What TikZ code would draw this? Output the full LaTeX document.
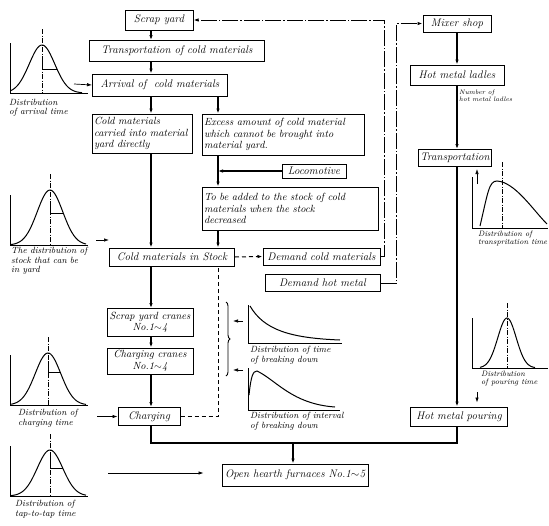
\documentclass[tikz,border=0pt]{standalone}
\usetikzlibrary{arrows.meta}
\usetikzlibrary{decorations.pathreplacing}

\newcommand\bxfont{\fontsize{11}{12}\selectfont\itshape}
\newcommand\bxmulti{\fontsize{10.4}{11.6}\selectfont\itshape}
\newcommand\lbfont{\fontsize{9}{9.5}\selectfont\itshape}
\newcommand\lbsmall{\fontsize{6.5}{7}\selectfont\itshape}

\tikzset{
  box/.style={draw, line width=1pt, inner sep=2pt, font=\bxfont},
  lbl/.style={font=\lbfont, inner sep=0pt, align=left, anchor=north west},
  wire/.style={line width=1.1pt},
  flow/.style={wire, -{Latex[length=5pt,width=3.5pt]}},
  dd/.style={line width=1pt, dash pattern=on 16pt off 2pt on 1.5pt off 2pt},
  dsh/.style={line width=1pt, dash pattern=on 4pt off 3pt},
  axline/.style={line width=0.9pt},
  bell/.style={line width=1pt},
  cline/.style={line width=0.7pt, dash pattern=on 5pt off 1.5pt on 1pt off 1.5pt},
}

\begin{document}
\begin{tikzpicture}[x=1pt,y=-1pt]
  \useasboundingbox (0,0) rectangle (549,525);
  % 两条主干线的 x 坐标
  \coordinate (xl) at (151,0);
  \coordinate (xa) at (218,0);
  \coordinate (xr) at (457,0);

  % 左边: 冷料
  \node[box, minimum width=68, minimum height=20] (scrap) at (159,20) {Scrap yard};
  \node[box, minimum width=175, minimum height=21] (tcold) at (177,51) {Transportation of cold materials};
  \node[box, minimum width=135, minimum height=22] (arrival) at (160,85) {Arrival of\ \ cold materials};
  \node[box, font=\bxmulti, text width=96, align=left, minimum height=39] (direct) at (142,133.5)
    {Cold materials\\carried into material\\yard directly};
  \node[box, font=\bxmulti, text width=158, align=left, minimum height=41] (excess) at (283,134.5)
    {Excess amount of cold material\\which cannot be brought into\\material yard.};
  \node[box, minimum width=64, minimum height=14] (loco) at (314,171) {Locomotive};
  \node[box, font=\bxmulti, text width=172, align=left, minimum height=43] (added) at (290,208.5)
    {To be added to the stock of cold\\materials when the stock\\decreased};
  \node[box, minimum width=125, minimum height=18] (stock) at (172,257) {Cold materials in Stock};
  \node[box, minimum width=117, minimum height=17] (dcold) at (321.5,256.5) {Demand cold materials};
  \node[box, minimum width=115, minimum height=17] (dhot) at (322.5,283) {Demand hot metal};
  \node[box, font=\bxmulti, minimum width=86, minimum height=28, align=center] (crane1) at (150,322.5) {Scrap yard cranes\\No.1$\sim$4};
  \node[box, font=\bxmulti, minimum width=86, minimum height=26, align=center] (crane2) at (150,361) {Charging cranes\\No.1$\sim$4};
  \node[box, minimum width=62, minimum height=18] (charging) at (149,416.5) {Charging};
  \node[box, minimum width=146, minimum height=22] (hearth) at (295,475) {Open hearth furnaces No.1$\sim$5};

  % 右边: 铁水
  \node[box, minimum width=68, minimum height=17] (mixer) at (457,23.5) {Mixer shop};
  \node[box, minimum width=94, minimum height=20] (ladles) at (457,75) {Hot metal ladles};
  \node[box, minimum width=72, minimum height=17] (thot) at (455,158) {Transportation};
  \node[box, minimum width=97, minimum height=19] (pouring) at (459,416.5) {Hot metal pouring};
  \node[lbl, font=\lbsmall] (nladles) at (459,90) {Number of\\hot metal ladles};

  % 连线
  \draw[flow] (scrap.south -| xl) -- (tcold.north -| xl);
  \draw[flow] (tcold.south -| xl) -- (arrival.north -| xl);
  \draw[flow] (arrival.south -| xl) -- (direct.north -| xl);
  \draw[flow] (arrival.south -| xa) -- (excess.north -| xa);
  \draw[flow] (direct.south -| xl) -- (stock.north -| xl);
  \draw[flow] (excess.south -| xa) -- (added.north -| xa);
  \draw[flow] (loco.west) -- (loco.west -| xa);
  \draw[flow] (added.south -| xa) -- (stock.north -| xa);
  \draw[dsh, -{Latex[length=5pt,width=3.5pt]}] (stock.east) -- (dcold.west);
  \draw[dd, -{Latex[length=5pt,width=3.5pt]}] (dcold.east) -- ++(4,0) |- (scrap.east);
  \draw[dd, -{Latex[length=5pt,width=3.5pt]}] (dhot.east) -- ++(16,0) |- (mixer.west);
  \draw[flow] (stock.south -| xl) -- (crane1.north -| xl);
  \draw[flow] (crane1.south -| xl) -- (crane2.north -| xl);
  \draw[flow] (crane2.south -| xl) -- (charging.north -| xl);
  \draw[dsh] (charging.east) -| (stock.south -| xa);
  \coordinate (join) at (293,443);
  \draw[wire] (charging.south -| xl) |- (join) -| (pouring.south -| xr);
  \draw[flow] (join) -- (join |- hearth.north);
  \draw[flow] (mixer.south -| xr) -- (ladles.north -| xr);
  \draw[flow] (ladles.south -| xr) -- (thot.north -| xr);
  \draw[flow] (thot.south -| xr) -- (pouring.north -| xr);

  % 正态分布小图
  \foreach \cx/\by/\h/\mk in {42/93/48/0.5, 50/245/55/0.58, 48/405/52/0.62, 50/496/46/0.6}{
      \pgfmathsetmacro\lo{max(\cx-40,11)}
      \pgfmathsetmacro\hi{min(\cx+40,86)}
      \draw[axline] (10,\by-50) -- (10,\by) -- (88,\by);
      \draw[cline] (\cx,\by-\h-16) -- (\cx,\by);
      \draw[bell] plot[domain=\lo:\hi, samples=50, smooth] (\x,{\by-\h*exp(-(((\x-\cx)/18)^2))});
      \draw[axline] (\cx,\by-\h*\mk-12) -- (\cx,\by-\h*\mk) -- ++({18*sqrt(ln(1/\mk))},0);
    }
  \draw[axline] (472,318) -- (472,368) -- (548,368);
  \draw[cline] (507,303) -- (507,368);
  \draw[bell] plot[domain=480:535, samples=50, smooth] (\x,{368-50*exp(-(((\x-507)/13)^2))});

  % 偏态分布
  \draw[axline] (472,177) -- (472,228) -- (548,228);
  \draw[cline] (502,162) -- (502,228);
  \draw[bell] (480,226) .. controls (488,192) and (489,181) .. (497,181)
    .. controls (515,182) and (533,210) .. (547,224);
  \draw[axline] (248,305) -- (248,343) -- (342,343);
  \draw[bell] (250,306) .. controls (264,330) and (290,338) .. (340,340);
  \draw[axline] (248,368) -- (248,410) -- (340,410);
  \draw[bell] (249,395) .. controls (251,376) and (253,371) .. (257,371)
    .. controls (276,380) and (292,404) .. (335,407);
  \draw[line width=0.9pt, decorate, decoration={brace, amplitude=4pt}] (226,302) -- (226,376);

  % 分布说明
  \node[lbl] (larr) at (9,99) {Distribution\\of arrival time};
  \node[lbl] (lstock) at (11,247) {The distribution of\\stock that can be\\in yard};
  \node[lbl] (lchg) at (18,409) {Distribution of\\charging time};
  \node[lbl] (ltap) at (15,500) {Distribution of\\tap-to-tap time};
  \node[lbl] (lbrk) at (250,346) {Distribution of time\\of breaking down};
  \node[lbl] (lint) at (250,412) {Distribution of interval\\of breaking down};
  \node[lbl, font=\fontsize{7.8}{8.2}\selectfont\itshape] (ltr) at (478,231) {Distribution of\\transpritation time};
  \node[lbl, font=\fontsize{7.8}{8.2}\selectfont\itshape] (lpour) at (481,371) {Distribution\\of pouring time};

  % 小箭头
  \coordinate (a1) at (74,84);
  \coordinate (a2) at (96,240);
  \coordinate (a3) at (97,416.5);
  \coordinate (a4) at (108,473);
  \coordinate (a5) at (243,321);
  \coordinate (a6) at (243,370);
  \coordinate (a7) at (477,184);
  \coordinate (a8) at (477,392);
  \draw[flow, line width=0.7pt] (a1) -- (arrival.west);
  \draw[flow, line width=0.7pt] (a2) -- (a2 -| stock.west);
  \draw[flow, line width=0.7pt] (a3) -- (charging.west);
  \draw[flow, line width=0.7pt, shorten >=18pt] (a4) -- (a4 -| hearth.west);
  \draw[flow, line width=0.7pt] (a5) -- ++(-10,0);
  \draw[flow, line width=0.7pt] (a6) -- ++(-10,0);
  \draw[flow, line width=0.7pt, shorten >=2pt] (a7) -- (a7 |- thot.south);
  \draw[flow, line width=0.7pt, shorten >=4pt] (a8) -- (a8 |- pouring.north);
\end{tikzpicture}
\end{document}
